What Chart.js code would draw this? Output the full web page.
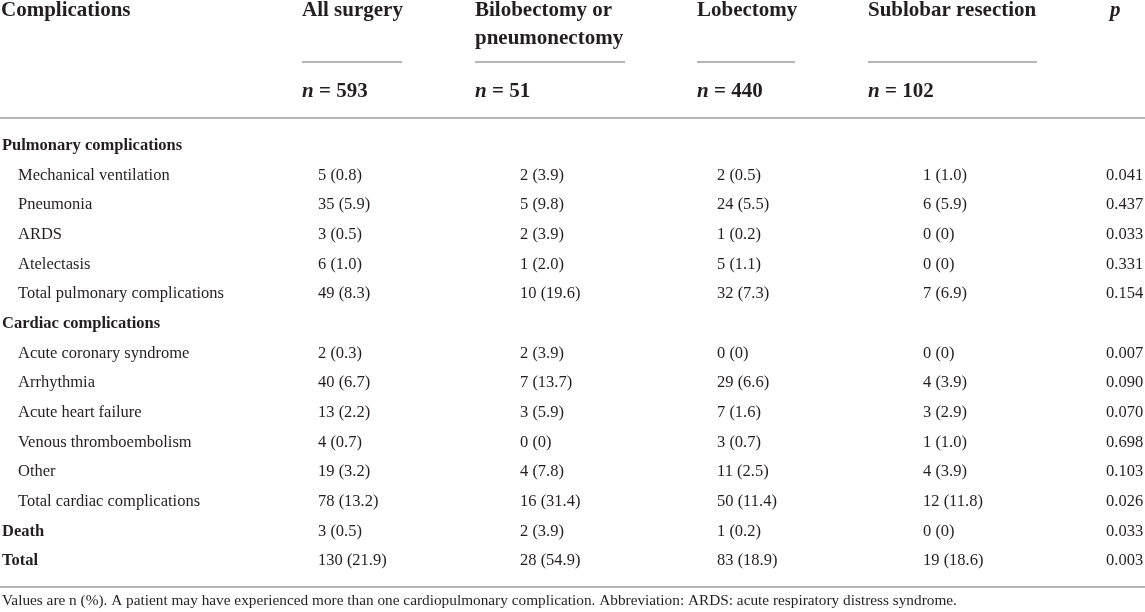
<!DOCTYPE html>
<html>
<head>
<meta charset="utf-8">
<script src="https://cdn.jsdelivr.net/npm/chart.js@4"></script>
<style>
  html, body { margin: 0; padding: 0; background: #fff; }
  #wrap { width: 1145px; height: 612px; position: relative; }
</style>
</head>
<body>
<div id="wrap"><canvas id="tbl"></canvas></div>
<script>
// rows of the table (group rows are bold and have no values)
const rowLabels = [
  "Pulmonary complications",
  "Mechanical ventilation",
  "Pneumonia",
  "ARDS",
  "Atelectasis",
  "Total pulmonary complications",
  "Cardiac complications",
  "Acute coronary syndrome",
  "Arrhythmia",
  "Acute heart failure",
  "Venous thromboembolism",
  "Other",
  "Total cardiac complications",
  "Death",
  "Total"
];
const groupRows = ["Pulmonary complications", "Cardiac complications", "Death", "Total"];

const colTitles = [["All surgery"], ["Bilobectomy or", "pneumonectomy"], ["Lobectomy"], ["Sublobar resection"]];
const colN = [593, 51, 440, 102];

// n and (%) per column
const allN   = [null, 5, 35, 3, 6, 49, null, 2, 40, 13, 4, 19, 78, 3, 130];
const allPct = [null, 0.8, 5.9, 0.5, 1.0, 8.3, null, 0.3, 6.7, 2.2, 0.7, 3.2, 13.2, 0.5, 21.9];
const biloN   = [null, 2, 5, 2, 1, 10, null, 2, 7, 3, 0, 4, 16, 2, 28];
const biloPct = [null, 3.9, 9.8, 3.9, 2.0, 19.6, null, 3.9, 13.7, 5.9, 0, 7.8, 31.4, 3.9, 54.9];
const lobeN   = [null, 2, 24, 1, 5, 32, null, 0, 29, 7, 3, 11, 50, 1, 83];
const lobePct = [null, 0.5, 5.5, 0.2, 1.1, 7.3, null, 0, 6.6, 1.6, 0.7, 2.5, 11.4, 0.2, 18.9];
const subN   = [null, 1, 6, 0, 0, 7, null, 0, 4, 3, 1, 4, 12, 0, 19];
const subPct = [null, 1.0, 5.9, 0, 0, 6.9, null, 0, 3.9, 2.9, 1.0, 3.9, 11.8, 0, 18.6];
const pValues = [null, 0.041, 0.437, 0.033, 0.331, 0.154, null, 0.007, 0.090, 0.070, 0.698, 0.103, 0.026, 0.033, 0.003];

const footnote = "Values are n (%). A patient may have experienced more than one cardiopulmonary complication. Abbreviation: ARDS: acute respiratory distress syndrome.";

// layout (pixels)
const headX = [302, 475, 697, 868];
const ruleEnds = [402, 625, 795, 1037];
const valX = [318, 520, 717, 923];
const pHeadX = 1110;
const pX = 1106;
const lineColor = "#b5b5b5";
const ink = "#231f20";
const serif = '"Liberation Serif", "Times New Roman", serif';

function fmt(n, pct) {
  if (n === null) return null;
  return n + " (" + (pct === 0 ? "0" : pct.toFixed(1)) + ")";
}

function cells(ns, pcts) {
  return ns.map((n, i) => fmt(n, pcts[i]));
}

const columns = [
  cells(allN, allPct),
  cells(biloN, biloPct),
  cells(lobeN, lobePct),
  cells(subN, subPct),
  pValues.map(p => p === null ? null : p.toFixed(3))
];
const columnX = [...valX, pX];

const datasets = columns.map((col, c) => ({
  texts: col.filter(t => t !== null),
  data: col.map((t, i) => t === null ? null : { x: columnX[c], y: rowLabels[i] }).filter(d => d),
  pointRadius: 0,
  pointHoverRadius: 0
}));

const tablePlugin = {
  id: "tablePlugin",
  afterDatasetsDraw(chart) {
    const ctx = chart.ctx;
    const x = chart.scales.x;
    const y = chart.scales.y;
    const W = chart.width;
    ctx.save();
    ctx.fillStyle = ink;
    ctx.textBaseline = "middle";
    ctx.textAlign = "left";

    // header
    ctx.font = "bold 21px " + serif;
    ctx.fillText("Complications", x.getPixelForValue(1), 11);
    colTitles.forEach((t, c) => {
      t.forEach((line, k) => ctx.fillText(line, x.getPixelForValue(headX[c]), 11 + k * 28));
    });
    ctx.font = "italic bold 21px " + serif;
    ctx.fillText("p", x.getPixelForValue(pHeadX), 11);

    // short rules under the column titles
    ctx.strokeStyle = lineColor;
    ctx.lineWidth = 2;
    headX.forEach((hx, c) => {
      ctx.beginPath();
      ctx.moveTo(x.getPixelForValue(hx), 62);
      ctx.lineTo(x.getPixelForValue(ruleEnds[c]), 62);
      ctx.stroke();
    });

    // n = row
    colN.forEach((n, c) => {
      const px = x.getPixelForValue(headX[c]);
      ctx.font = "italic bold 21px " + serif;
      ctx.fillText("n", px, 92);
      const w = ctx.measureText("n").width;
      ctx.font = "bold 21px " + serif;
      ctx.fillText(" = " + n, px + w, 92);
    });

    // full-width rules
    ctx.beginPath();
    ctx.moveTo(0, 118);
    ctx.lineTo(W, 118);
    ctx.moveTo(0, 587);
    ctx.lineTo(W, 587);
    ctx.stroke();

    // row labels
    rowLabels.forEach((lab, i) => {
      const py = y.getPixelForValue(i);
      if (groupRows.includes(lab)) {
        ctx.font = "bold 16.5px " + serif;
        ctx.fillText(lab, x.getPixelForValue(2), py);
      } else {
        ctx.font = "16.5px " + serif;
        ctx.fillText(lab, x.getPixelForValue(18), py);
      }
    });

    // cell values, placed at each dataset point
    ctx.font = "16.5px " + serif;
    chart.data.datasets.forEach((ds, d) => {
      chart.getDatasetMeta(d).data.forEach((pt, i) => {
        ctx.fillText(ds.texts[i], pt.x, pt.y);
      });
    });

    // footnote
    ctx.font = "15.3px " + serif;
    ctx.fillText(footnote, x.getPixelForValue(2), 601);
    ctx.restore();
  }
};

new Chart(document.getElementById("tbl"), {
  type: "scatter",
  data: { datasets },
  options: {
    responsive: true,
    maintainAspectRatio: false,
    animation: false,
    layout: { padding: { top: 131, bottom: 36, left: 0, right: 0 } },
    plugins: { legend: { display: false }, tooltip: { enabled: false } },
    scales: {
      x: { type: "linear", min: 0, max: 1145, display: false },
      y: { type: "category", labels: rowLabels, offset: true, display: false }
    }
  },
  plugins: [tablePlugin]
});
</script>
</body>
</html>
